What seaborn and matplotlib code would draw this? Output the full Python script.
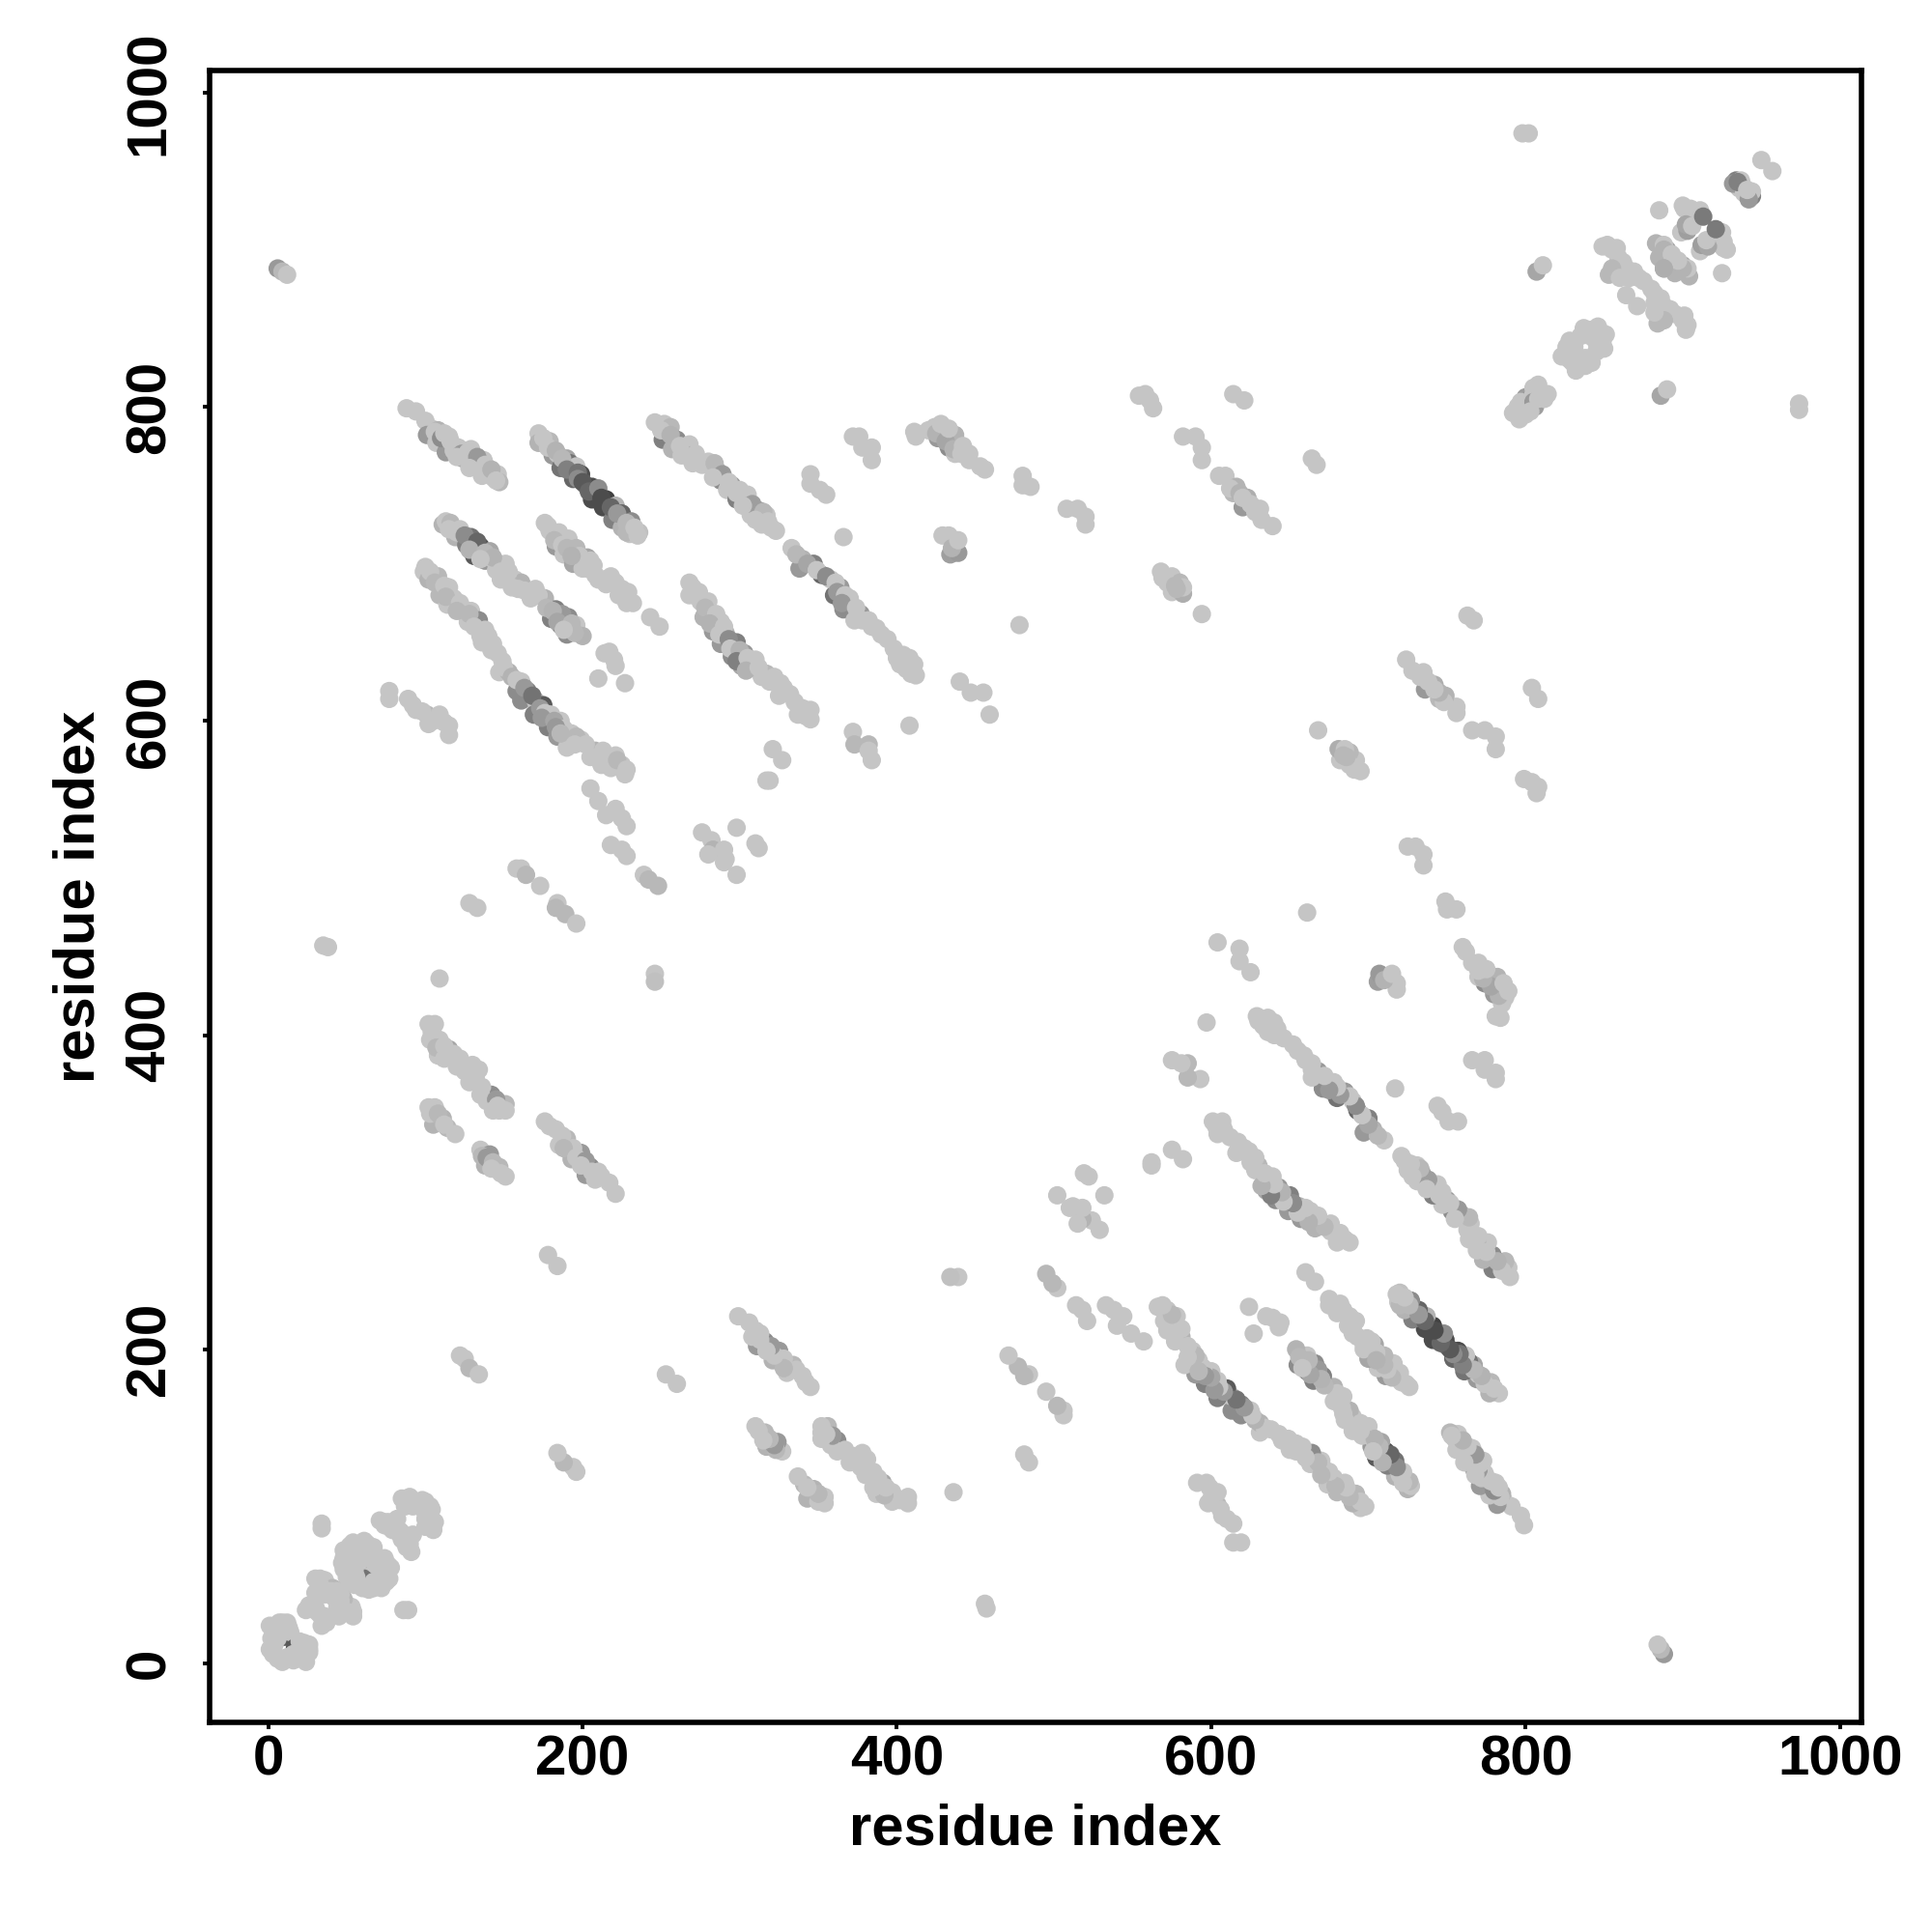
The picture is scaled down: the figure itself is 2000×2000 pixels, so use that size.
import pandas as pd
import seaborn as sns
import matplotlib.pyplot as plt

L = 0.77

strand_a = [(88,799,L),(94,797,L),(100,791,L),(107,779,.35),(104,786,L),(101,782,.6),(108,785,.7),(113,775,.4),(107,777,L),
            (115,781,L),(113,771,.6),(121,774,L),(126,768,.45),(124,767,.65),(129,773,L),(131,764,L),(137,766,L),
            (140,759,.68),(136,756,L),(146,757,L),(147,752,.72)]
strand_b = [(172,783,L),(172,777,.7),(179,778,.72),(181,769,.6),(184,770,L),(190,767,.65),(186,761,.45),(192,764,.45),
            (196,762,L),(199,757,.3),(194,754,.4),(202,750,.5),(206,749,.3),(209,744,.5),(206,741,.3),(215,741,.25),
            (213,736,.3),(221,737,.7),(225,732,.4),(219,728,.5),(231,727,.55),(225,723,.7),(236,720,.75),(230,719,L)]
strand_c = [(246,790,L),(252,789,L),(256,787,.72),(251,779,.5),(260,779,.55),(257,773,.7),(268,776,L),(268,769,.65),
            (270,764,L),(280,765,L),(286,759,.7),(288,753,.55),(295,750,.6),(292,747,L),(305,744,L),(298,741,.5),
            (312,734,.6),(307,731,L),(317,731,L),(314,725,L),(320,723,L),(323,721,L)]
strand_d = [(345,757,L),(345,751,L),(351,747,L),(355,744,L),(366,717,L)]
strand_e = [(111,725,.7),(113,727,L),(116,726,.72),(122,722,L),(119,717,.7),(129,717,.45),(126,712,.5),(135,711,.3),
            (131,705,.35),(141,708,.65),(138,702,.6),(151,700,L),(145,696,L),(148,690,L),(157,690,L),(161,688,.7),
            (159,684,L),(170,684,L),(167,678,L),(176,678,.7),(183,671,.5),(180,665,.5),(191,666,.55),(186,661,.45),
            (196,661,L),(190,655,.55),(200,654,.7)]
strand_f = [(176,726,L),(179,721,L),(185,720,L),(183,711,.6),(191,716,L),(196,710,.72),(188,706,L),(194,700,.65),
            (203,704,.65),(207,699,L),(200,697,L),(210,690,L),(218,692,L),(221,688,L),(229,682,L),(223,680,L),
            (232,675,L),(243,666,L),(249,660,L)]
strand_g = [(100,698,L),(99,695,L),(108,692,.72),(102,690,.7),(115,685,L),(109,680,.72),(118,678,L),(124,671,.7),
            (114,674,L),(129,670,L),(134,664,.55),(127,663,L),(140,654,L),(135,654,L),(143,649,L),(142,645,L)]
strand_h = [(149,638,L),(147,631,L),(153,631,.7),(161,625,L),(158,619,.55),(165,619,.5),(161,613,.55),(170,613,L),
            (175,610,.35),(169,604,.5),(180,604,L),(178,596,.5),(186,600,L),(184,590,.6),(193,592,L),(199,588,L),
            (190,583,L),(208,581,.7),(205,577,L),(213,581,L),(221,578,L),(212,572,L),(225,572,L),(227,566,L)]
strand_i = [(77,619,L),(77,614,L),(89,614,L),(94,607,L),(101,604,.72),(102,598,L),(109,604,L),(115,597,L),(115,591,L)]
strand_j = [(214,643,L),(217,644,L),(221,635,L),(220,639,L),(210,627,L),(227,624,L)]
strand_k = [(268,688,L),(268,680,L),(274,682,L),(280,676,L),(277,666,.7),(288,663,L),(283,657,.6),(291,656,.7),
            (288,649,.6),(298,650,.5),(295,641,.55),(303,643,.6),(301,635,.65),(310,639,L),(317,630,.72),(314,628,L),
            (326,624,L),(332,617,L),(325,616,L),(337,604,L),(345,607,L),(345,601,L)]
strand_l = [(333,710,L),(340,703,.7),(338,697,.6),(347,700,.5),(352,693,.4),(358,690,L),(364,685,.6),(360,680,.45),
            (370,678,L),(366,671,.55),(377,668,.6),(373,664,L),(382,664,L),(387,659,L),(394,652,L),(404,642,L),
            (400,640,L),(411,636,L),(406,633,L),(412,629,L)]
strand_m = [(205,557,L),(210,549,L),(221,544,L),(215,540,L),(225,538,L),(228,533,L),(218,521,L),(225,518,L),(228,514,L)]
strand_n = [(276,529,L),(282,524,L),(283,518,.7),(290,518,L),(291,512,L),(280,515,L),(290,510,L),(298,502,L),
            (298,532,L),(310,522,L),(312,519,L),(321,582,L),(327,575,L),(317,562,L),(319,562,L)]
strand_o = [(158,506,L),(161,506,L),(164,502,.72),(173,495,L),(184,484,L),(183,481,.72),(189,477,.72),(196,471,L),
            (128,484,L),(133,481,L),(109,436,L),(246,439,L),(246,434,.75),(239,502,L),(242,499,.72),(248,495,.72)]
strand_p = [(102,407,L),(106,407,L),(103,397,L),(109,397,L),(115,391,.65),(108,387,L),(122,385,L),(134,378,L),
            (128,370,L),(142,362,.55),(139,358,L),(151,356,.72),(147,352,L),(151,352,L)]
strand_q = [(102,354,L),(106,354,L),(111,347,.7),(105,343,.7),(114,341,.72),(119,337,L),
            (135,327,L),(141,324,.6),(138,317,.7),(147,316,.72),(151,310,L)]
strand_r = [(176,345,L),(183,340,L),(190,334,.72),(185,330,L),(199,325,.6),(193,321,.7),(205,316,.55),(202,311,.6),
            (210,313,L),(217,306,L),(221,299,L),(178,260,L),(184,253,L),(122,196,L),(125,194,L),(128,188,.72),(134,184,L)]
strand_s = [(372,781,L),(376,781,L),(378,774,L),(384,774,L),(384,766,L),(411,784,L),(412,781,L),(424,787,L),(428,788,L),
            (430,784,L),(426,780,.6),(437,782,.7),(433,774,.55),(439,776,.7),(437,770,L),(446,770,L),(446,766,L),
            (453,762,L),(456,760,L),(480,756,L),(480,750,L),(485,749,L),(508,735,L),(515,735,L),(520,730,L),(520,725,L)]
strand_t = [(429,718,L),(433,718,L),(434,706,.62),(439,707,.6),(435,710,.7),(439,715,L),(478,661,L),
            (440,625,L),(447,618,L),(455,618,L),(459,604,L),(372,593,L),(373,585,.72),(382,585,.72),(382,581,L),(384,575,L),(408,597,L)]
strand_u = [(554,807,L),(558,808,L),(561,804,L),(563,799,L),(614,808,L),(621,804,L),(582,781,L),(590,781,L),(594,774,L),(594,766,L),
            (605,756,L),(609,756,L),(616,749,.7),(614,745,.72),(623,742,.68),(620,736,.6),(631,735,L),(632,728,L),(639,724,L),
            (568,695,L),(569,691,L),(575,692,L),(580,688,.72),(575,682,L),(582,681,.68),(582,685,L),(594,668,L),(664,767,L),(667,763,L)]
strand_v = [(798,974,L),(802,974,L),(6,888,.6),(9,886,.72),(12,884,L),(35,457,L),(38,456,L)]
corner_top = [(950,957,L),(934,944,.5),(937,944,L),(936,939,L),(943,935,.5),(901,926,L),(905,926,L),(911,925,L),
              (899,911,L),(903,912,.62),(885,925,L),(883,904,.7),(890,900,.65),(885,895,.7),(888,903,L),
              (852,903,L),(849,902,L),(858,901,L),(859,895,L),(853,884,.72),(864,888,L),(869,886,L),(872,882,L),
              (864,871,L),(837,850,L),(842,849,L),(846,846,L),(826,838,L),(831,838,L),(823,832,L),(828,830,L),
              (808,814,L),(800,806,.62),(803,805,.6),(792,796,L),(797,803,L),(807,886,.65),(811,890,L)]
corner_low = [(85,105,L),(90,106,L),(98,104,L),(87,100,L),(92,100,L),(96,100,L),(34,89,L),(34,86,L),
              (71,91,L),(73,90,L),(77,87,L),(74,88,L),(79,85,L),(82,84,L),(48,72,L),(52,75,L),(54,77,L),(61,78,L),(67,74,L),
              (63,76,L),(52,62,.35),(60,68,.62),(55,63,L),(48,67,L),(55,70,L),(60,72,L),(52,63,L),(48,60,L),(54,61,.45),(50,55,L),
              (30,54,L),(33,54,L),(36,53,L),(37,49,L),(41,48,.72),(40,46,L),(36,44,L),(44,46,L),(24,34,L),(27,35,L),(29,38,L),
              (28,35,L),(31,33,L),(1,24,L),(9,26,L),(13,23,L),(9,24,L),(10,17,.35),(14,20,L),(1,9,L),(3,6,L),(6,16,L)]

# second layer, these lie over the first one and leave its darker contacts as crescents
over_a = [(106,784,L),(110,780,.55),(116,778,L),(118,772,L),(123,770,.6),(127,771,L),(133,768,.6),(138,763,L),
          (143,755,L),(128,761,L),(120,768,L),(112,783,L),(142,760,.7),(145,753,L)]
over_b = [(175,780,L),(178,774,L),(183,772,.7),(187,767,.72),(190,760,.5),(197,758,.45),(197,754,.55),(200,752,.35),
          (204,746,.4),(210,748,.55),(212,742,.3),(218,736,.4),(222,732,.6),(228,726,.72),(228,720,.72),(233,723,L),(235,718,L)]
over_c = [(250,785,L),(256,782,.7),(262,775,L),(263,769,L),(272,770,L),(276,763,L),(284,764,.72),(289,757,.6),(283,755,L),
          (293,752,L),(300,747,L),(298,745,L),(308,738,.62),(302,737,L),(315,733,.72),(310,728,L),(318,727,L)]
over_e = [(115,722,L),(120,720,L),(125,718,.55),(133,714,.4),(128,709,.7),(138,707,.72),(144,702,L),(143,704,.7),(135,703,L),
          (148,695,L),(153,695,L),(155,685,L),(163,683,L),(172,680,L),(177,672,.72),(187,668,.6),(181,670,.7),(184,663,.65),
          (193,662,.72),(195,656,.72),(188,658,L)]
over_f = [(178,724,L),(182,715,.72),(187,712,L),(190,710,.72),(198,705,L),(193,705,.7),(205,702,L),(203,697,L),(213,690,L),
          (208,693,L),(215,687,L),(225,684,L),(228,675,L)]
over_g = [(103,695,L),(106,688,.72),(112,686,L),(113,679,.72),(122,675,L),(120,670,.72),(128,668,.72),(131,660,L),(138,658,L),
          (136,650,L),(141,650,L),(146,643,L)]
over_h = [(150,634,L),(155,628,.7),(158,626,L),(163,621,.6),(168,616,.45),(173,608,.6),(176,605,L),(174,602,.6),(182,600,.65),
          (188,595,L),(183,596,.6),(186,592,.72),(196,590,.72),(202,585,L),(195,585,L),(215,578,L),(217,574,L),(218,570,L),(222,575,.72),(228,569,L)]
over_i = [(92,610,L),(98,606,L),(105,600,L),(112,599,L)]
over_k = [(270,685,L),(275,676,L),(278,672,.72),(285,668,L),(281,662,.7),(290,660,L),(287,655,L),(293,652,.55),(294,646,L),
          (300,645,.7),(298,638,.5),(305,640,L),(304,632,.7),(312,634,L),(322,628,L),(319,625,L),(328,621,L),(335,612,L),(340,608,L),(342,603,L)]
over_l = [(336,706,.72),(343,700,.65),(349,696,L),(355,692,.55),(361,688,L),(362,682,.6),(367,680,L),(365,675,.6),(374,672,L),
          (378,664,L),(384,660,L),(390,655,L),(398,646,L),(408,640,L),(402,636,L),(409,630,L)]
over_p = [(104,402,L),(107,392,.72),(112,393,L),(118,388,L),(112,385,L),(120,380,L),(125,377,L),(130,381,L),(132,373,L),
          (136,367,L),(135,362,L),(145,359,.6),(146,355,L),(143,352,L)]
over_q = [(103,350,L),(108,350,.72),(112,343,L),(136,323,.72),(139,322,.6),(143,319,.72),(142,315,L),(148,312,L)]
over_r = [(179,342,L),(187,336,L),(194,328,L),(188,328,.72),(196,322,L),(202,320,.6),(199,317,L),(208,308,L),(206,313,L),(212,310,L)]
over_s = [(420,785,L),(425,783,.7),(431,778,.65),(436,773,.7),(441,770,L),(428,789,L),(433,786,L),(442,775,L)]
over_u = [(612,748,L),(618,745,.7),(620,742,L),(625,738,L),(628,733,L),(572,688,L),(577,686,.72),(578,684,.72)]
over_low = [(47,64,L),(52,67,L),(56,72,L),(63,68,L),(66,66,L),(50,58,L),(55,56,L),
            (60,55,L),(66,58,L),(52,52,L),(58,52,L),(64,72,L),(26,37,L),(30,45,L),(33,50,L),(38,46,L),(34,47,L),(42,42,L),
            (30,36,L),(88,102,L),(94,103,L),(100,103,L),(82,92,L),(76,90,L),(84,84,L),(2,16,L),(4,12,L),(8,20,L),(5,24,L),(12,26,L),(7,26,L)]
over_top = [(888,900,.7),(893,897,L),(900,928,L),(902,916,.65),(906,915,L),(855,900,L),(862,892,L),
            (855,888,.72),(866,882,L),(875,880,L),(860,882,L),(828,842,L),(835,845,L),(841,845,L),
            (846,851,L),(932,942,.6),(938,941,L),(805,808,L),(805,812,L),(795,800,L),(888,888,.68),(913,921,.48)]

strands = [strand_a, strand_b, strand_c, strand_d, strand_e, strand_f, strand_g, strand_h, strand_i, strand_j, strand_k,
           strand_l, strand_m, strand_n, strand_o, strand_p, strand_q, strand_r, strand_s, strand_t, strand_u, strand_v,
           corner_top, corner_low,
           over_a, over_b, over_c, over_e, over_f, over_g, over_h, over_i, over_k, over_l, over_p, over_q, over_r,
           over_s, over_u, over_low, over_top]

half = pd.DataFrame([c for s in strands for c in s], columns=['i', 'j', 'grey'])
mirror = half.rename(columns={'i': 'j', 'j': 'i'})
contacts = pd.concat([half, mirror], ignore_index=True)

sns.set_style('ticks')
plt.rcParams['font.family'] = ['Liberation Sans', 'DejaVu Sans']

fig = plt.figure(figsize=(10, 10), dpi=200)
ax = fig.add_axes([217 / 2000, 1 - 1783 / 2000, 1710 / 2000, 1710 / 2000])

sns.scatterplot(data=contacts, x='i', y='j', hue='grey', palette='gray', hue_norm=(0, 1),
                s=47, linewidth=0, legend=False, ax=ax)

ax.set_xlim(-37.3, 1013.7)
ax.set_ylim(-37.5, 1014)
ax.set_xticks([0, 200, 400, 600, 800, 1000])
ax.set_yticks([0, 200, 400, 600, 800, 1000])
ax.tick_params(axis='x', length=2.5, width=1.4, pad=2, labelsize=21, color='black', labelcolor='black')
ax.tick_params(axis='y', length=2.5, width=1.4, pad=10, labelsize=21, color='black', labelcolor='black')
for t in ax.get_xticklabels():
    t.set_fontweight('bold')
for t in ax.get_yticklabels():
    t.set_fontweight('bold')
    t.set_rotation(90)
    t.set_va('center')

for side in ax.spines.values():
    side.set_linewidth(2)
    side.set_color('black')

ax.set_xlabel('residue index', fontsize=21.5, fontweight='bold', va='center', color='black')
ax.set_ylabel('residue index', fontsize=21.5, fontweight='bold', va='center', color='black')
ax.xaxis.set_label_coords(0.5, -0.065)
ax.yaxis.set_label_coords(-0.0792, 0.5)

fig.savefig('out.png', dpi=200, facecolor='white')
